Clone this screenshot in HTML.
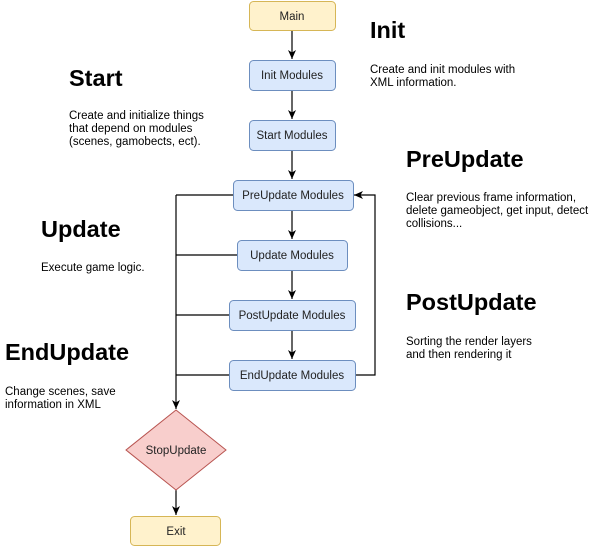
<!DOCTYPE html>
<html><head><style>
body{margin:0;width:605px;height:548px;background:#fff;position:relative;font-family:"Liberation Sans",Arial,sans-serif;overflow:hidden}
.h{position:absolute;font-weight:bold;font-size:23.5px;color:#000}
.t{position:absolute;font-size:11.5px;line-height:13px;color:#000}
</style></head><body>
<svg width="605" height="548" style="position:absolute;left:0;top:0" font-family="Liberation Sans, Arial, sans-serif" font-size="11">
<defs><marker id="a" markerWidth="10" markerHeight="10" refX="9" refY="5" orient="auto" markerUnits="userSpaceOnUse"><path d="M0,1 L9,5 L0,9 L2.5,5z" fill="#000"/></marker></defs>
<g stroke="#000" stroke-width="1.2" fill="none">
<line x1="292" y1="30" x2="292" y2="59" marker-end="url(#a)"/>
<line x1="292" y1="90" x2="292" y2="119" marker-end="url(#a)"/>
<line x1="292" y1="150" x2="292" y2="179" marker-end="url(#a)"/>
<line x1="292" y1="210" x2="292" y2="239" marker-end="url(#a)"/>
<line x1="292" y1="270" x2="292" y2="299" marker-end="url(#a)"/>
<line x1="292" y1="330" x2="292" y2="359" marker-end="url(#a)"/>
<polyline points="355,375 375,375 375,195 354,195" marker-end="url(#a)"/>
<line x1="233" y1="195" x2="176" y2="195"/>
<line x1="237" y1="255" x2="176" y2="255"/>
<line x1="229" y1="315" x2="176" y2="315"/>
<line x1="229" y1="375" x2="176" y2="375"/>
<line x1="176" y1="195" x2="176" y2="409" marker-end="url(#a)"/>
<line x1="176" y1="490" x2="176" y2="515" marker-end="url(#a)"/>
</g>
<g font-size="11.5" text-anchor="middle" fill="#222">
<rect x="249.5" y="1.5" width="86" height="29" rx="4" fill="#fff2cc" stroke="#d6b656"/><text x="292" y="20">Main</text>
<rect x="249.5" y="60.5" width="86" height="30" rx="4" fill="#dae8fc" stroke="#6c8ebf"/><text x="292" y="79">Init Modules</text>
<rect x="249.5" y="120.5" width="86" height="30" rx="4" fill="#dae8fc" stroke="#6c8ebf"/><text x="292" y="139">Start Modules</text>
<rect x="233.5" y="180.5" width="120" height="30" rx="4" fill="#dae8fc" stroke="#6c8ebf"/><text x="293" y="199">PreUpdate Modules</text>
<rect x="237.5" y="240.5" width="110" height="30" rx="4" fill="#dae8fc" stroke="#6c8ebf"/><text x="292" y="259">Update Modules</text>
<rect x="229.5" y="300.5" width="126" height="30" rx="4" fill="#dae8fc" stroke="#6c8ebf"/><text x="292" y="319">PostUpdate Modules</text>
<rect x="229.5" y="360.5" width="126" height="30" rx="4" fill="#dae8fc" stroke="#6c8ebf"/><text x="292" y="379">EndUpdate Modules</text>
<polygon points="176,410 226,450 176,490 126,450" fill="#f8cecc" stroke="#b85450"/><text x="176" y="454">StopUpdate</text>
<rect x="130.5" y="516.5" width="90" height="29" rx="4" fill="#fff2cc" stroke="#d6b656"/><text x="176" y="535">Exit</text>
</g>
</svg>
<div class="h" style="left:370px;top:17px">Init</div>
<div class="t" style="left:370px;top:64px">Create and init modules with<br>XML information.</div>
<div class="h" style="left:69px;top:65px">Start</div>
<div class="t" style="left:69px;top:110px">Create and initialize things<br>that depend on modules<br>(scenes, gamobects, ect).</div>
<div class="h" style="left:406px;top:146px">PreUpdate</div>
<div class="t" style="left:406px;top:192px">Clear previous frame information,<br>delete gameobject, get input, detect<br>collisions...</div>
<div class="h" style="left:41px;top:216px">Update</div>
<div class="t" style="left:41px;top:262px">Execute game logic.</div>
<div class="h" style="left:406px;top:289px">PostUpdate</div>
<div class="t" style="left:406px;top:336px">Sorting the render layers<br>and then rendering it</div>
<div class="h" style="left:5px;top:339px">EndUpdate</div>
<div class="t" style="left:5px;top:386px">Change scenes, save<br>information in XML</div>
</body></html>
